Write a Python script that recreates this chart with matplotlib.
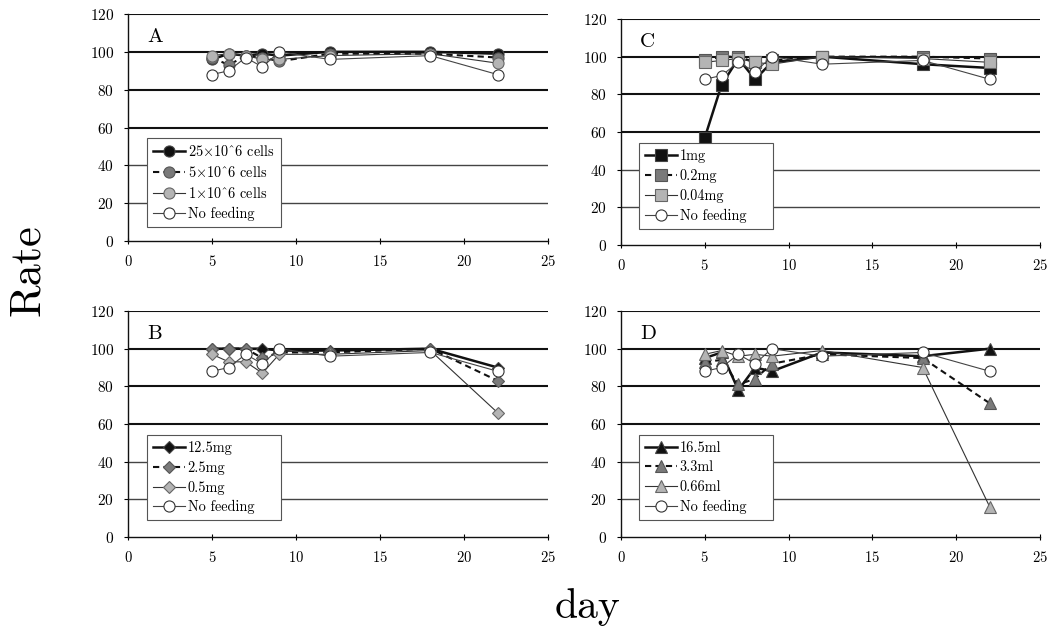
import matplotlib
matplotlib.use("Agg")
import matplotlib.pyplot as plt
from matplotlib.lines import Line2D

plt.rcParams['font.family'] = ['cmr10', 'DejaVu Serif']
plt.rcParams['mathtext.fontset'] = 'cm'
plt.rcParams['axes.formatter.use_mathtext'] = True

days = [5, 6, 7, 8, 9, 12, 18, 22]
no_feeding = [88, 90, 97, 92, 100, 96, 98, 88]

# Panel A: cells
a_labels = [r'25$\times$10^6 cells', r'5$\times$10^6 cells', r'1$\times$10^6 cells', 'No feeding']
a_high = [96, 99, 98, 99, 98, 100, 100, 99]
a_mid = [97, 93, 98, 97, 95, 99, 99, 97]
a_low = [98, 99, 98, 96, 96, 98, 99, 94]

# Panel B
b_labels = ['12.5mg', '2.5mg', '0.5mg', 'No feeding']
b_high = [100, 100, 100, 100, 99, 99, 100, 90]
b_mid = [100, 100, 100, 95, 98, 98, 100, 83]
b_low = [97, 93, 93, 87, 97, 97, 99, 66]

# Panel C
c_labels = ['1mg', '0.2mg', '0.04mg', 'No feeding']
c_high = [57, 85, 99, 88, 97, 100, 96, 94]
c_mid = [98, 100, 100, 97, 98, 100, 100, 99]
c_low = [97, 98, 99, 97, 96, 100, 99, 97]

# Panel D
d_labels = ['16.5ml', '3.3ml', '0.66ml', 'No feeding']
d_high = [95, 98, 78, 90, 88, 98, 96, 100]
d_mid = [93, 94, 81, 84, 92, 97, 95, 71]
d_low = [97, 99, 96, 97, 96, 99, 90, 16]

yticks = [0, 20, 40, 60, 80, 100, 120]
xticks = [0, 5, 10, 15, 20, 25]

W, H = 1049, 629
fig = plt.figure(figsize=(W / 100, H / 100), dpi=100)


def px_axes(left, top, right, bottom):
    return fig.add_axes([left / W, 1 - bottom / H, (right - left) / W, (bottom - top) / H])


def style_for(marker):
    ms = {'o': 8, 's': 8.5, 'D': 6, '^': 8}[marker]
    return [
        dict(color='#111111', lw=1.8, ls='-', marker=marker, ms=ms,
             mfc='#111111', mec='#444444', mew=0.8),
        dict(color='#111111', lw=1.5, ls=(0, (3, 2)), marker=marker, ms=ms,
             mfc='#7a7a7a', mec='#555555', mew=0.8),
        dict(color='#333333', lw=0.8, ls='-', marker=marker, ms=ms,
             mfc='#b4b4b4', mec='#666666', mew=0.8),
        dict(color='#444444', lw=0.8, ls='-', marker='o', ms=8,
             mfc='white', mec='#333333', mew=0.8),
    ]


def panel(ax, letter, series, labels, marker, leg_xy, leg_w):
    for y in yticks[1:]:
        if y >= 60:
            ax.axhline(y, color='#111111', lw=1.5, zorder=1)
        else:
            ax.axhline(y, color='#444444', lw=1.0, zorder=1)
    styles = style_for(marker)
    handles = []
    for vals, st, lab in zip(series, styles, labels):
        ax.plot(days, vals, zorder=3, clip_on=False, **st)
        handles.append(Line2D([0], [0], label=lab, **st))
    ax.set_xlim(0, 25)
    ax.set_ylim(0, 120)
    ax.set_xticks(xticks)
    ax.set_yticks(yticks)
    ax.tick_params(axis='x', direction='inout', length=5, width=0.8, pad=7, labelsize=10.5)
    ax.tick_params(axis='y', direction='out', length=3, width=0.8, pad=7, labelsize=11)
    for s in ['top', 'right']:
        ax.spines[s].set_visible(False)
    for s in ['left', 'bottom']:
        ax.spines[s].set_linewidth(1.0)
        ax.spines[s].set_color('#111111')
    ax.text(0.045, 0.897, letter, transform=ax.transAxes, fontsize=15,
            ha='left', va='center')
    leg = ax.legend(handles=handles, loc='upper left',
                    bbox_to_anchor=(leg_xy[0], leg_xy[1], leg_w, 0), mode='expand',
                    borderaxespad=0, fontsize=10.3, frameon=True, fancybox=False,
                    edgecolor='#555555', framealpha=1, handlelength=2.2,
                    labelspacing=0.4, handletextpad=0.2, borderpad=0.42)
    leg.get_frame().set_linewidth(0.8)
    leg.set_zorder(5)


axA = px_axes(128, 14, 548, 241)
axB = px_axes(128, 311, 548, 537)
axC = px_axes(621, 19, 1040, 245)
axD = px_axes(621, 311, 1040, 537)

panel(axA, 'A', [a_high, a_mid, a_low, no_feeding], a_labels, 'o', (0.046, 0.452), 134 / 420)
panel(axB, 'B', [b_high, b_mid, b_low, no_feeding], b_labels, 'D', (0.046, 0.451), 134 / 420)
panel(axC, 'C', [c_high, c_mid, c_low, no_feeding], c_labels, 's', (0.044, 0.45), 134 / 419)
panel(axD, 'D', [d_high, d_mid, d_low, no_feeding], d_labels, '^', (0.044, 0.451), 134 / 419)

fig.text(28 / W, 1 - 270 / H, 'Rate', rotation=90, fontsize=32, ha='center', va='center')
fig.text(588 / W, 1 - 618 / H, 'day', fontsize=30, ha='center', va='baseline')

fig.savefig('out.png', dpi=100)
